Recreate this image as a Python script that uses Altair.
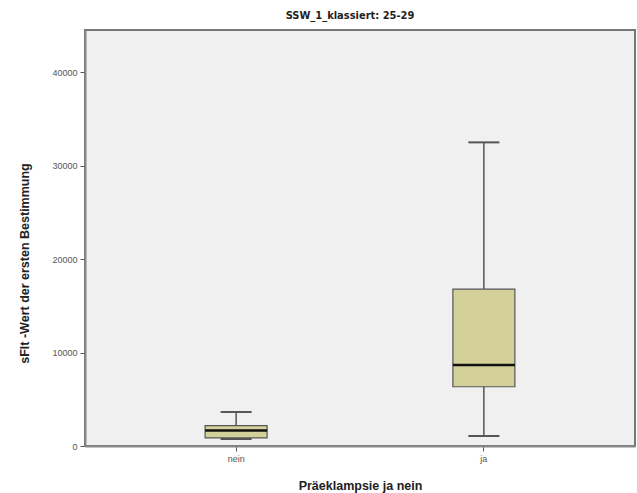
import altair as alt
import pandas as pd

categories = ["nein", "ja"]
whisker_low = [750, 1070]
q1 = [870, 6340]
median = [1650, 8660]
q3 = [2170, 16790]
whisker_high = [3640, 32480]

df = pd.DataFrame({
    "cat": categories,
    "lo": whisker_low,
    "q1": q1,
    "med": median,
    "q3": q3,
    "hi": whisker_high,
})

FONT = "Liberation Sans"
NARROW = "Liberation Sans Narrow, DejaVu Sans Condensed, Roboto Condensed, Liberation Sans, sans-serif"

x = alt.X("cat:N", sort=categories,
          scale=alt.Scale(paddingInner=0, paddingOuter=0.11),
          axis=alt.Axis(title="Präeklampsie ja nein", labelAngle=0,
                        labelFontSize=9, labelColor="#555555", labelFont=FONT,
                        tickSize=5, tickColor="#555555", domainColor="#888888",
                        domainWidth=2, labelPadding=3,
                        titleFont=FONT, titleFontSize=12.5, titleFontWeight="bold",
                        titleColor="#222222", titleY=39, titleBaseline="middle"))

yscale = alt.Scale(domain=[0, 44500], nice=False)
yaxis = alt.Axis(title="sFlt -Wert der ersten Bestimmung", values=[0, 10000, 20000, 30000, 40000],
                 format="d", labelFontSize=9, labelColor="#555555", labelFont=FONT,
                 tickSize=5, tickColor="#555555", domainColor="#888888", domainWidth=2,
                 grid=False, labelPadding=3,
                 titleFont=FONT, titleFontSize=12.5, titleFontWeight="bold",
                 titleColor="#222222", titleX=-61, titleY=233, titleBaseline="middle",
                 titleAngle=270)

base = alt.Chart(df)

lower = base.mark_rule(color="#555555", strokeWidth=1.5).encode(
    x=x, y=alt.Y("lo:Q", scale=yscale, axis=yaxis), y2="q1:Q")
upper = base.mark_rule(color="#555555", strokeWidth=1.5).encode(
    x=x, y=alt.Y("q3:Q"), y2="hi:Q")
box = base.mark_bar(size=62, fill="#D4D09A", stroke="#555555", strokeWidth=1.2,
                    opacity=1).encode(
    x=x, y=alt.Y("q1:Q"), y2="q3:Q")
med = base.mark_tick(size=62, thickness=2.5, color="#111111", opacity=1).encode(
    x=x, y=alt.Y("med:Q"))
cap_lo = base.mark_tick(size=31, thickness=2, color="#555555", opacity=1).encode(
    x=x, y=alt.Y("lo:Q"))
cap_hi = base.mark_tick(size=31, thickness=2, color="#555555", opacity=1).encode(
    x=x, y=alt.Y("hi:Q"))

chart = alt.layer(lower, upper, box, med, cap_lo, cap_hi).properties(
    width=550, height=416,
    title=alt.TitleParams("SSW_1_klassiert: 25-29", font=NARROW, fontSize=11,
                          fontWeight="bold", color="#222222", anchor="middle",
                          dx=-10, offset=9),
    autosize=alt.AutoSizeParams(type="none"),
    padding={"left": 85, "top": 30, "right": 2, "bottom": 47},
    background="white",
).configure_view(fill="#F0F0F0", stroke="#777777", strokeWidth=2)

chart.save("out.html", embed_options={"renderer": "svg", "actions": False})
